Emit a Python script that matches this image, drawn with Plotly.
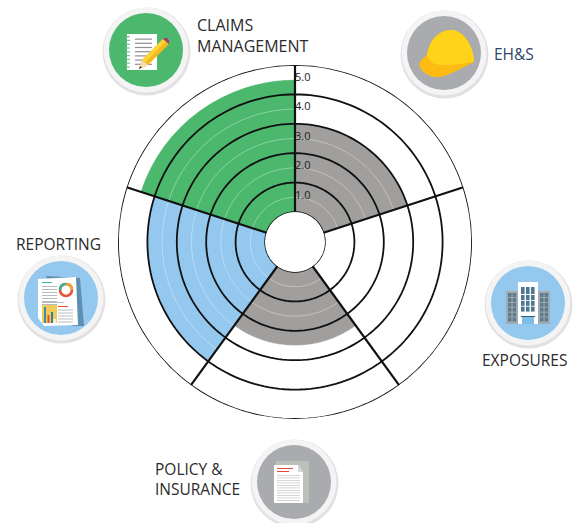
import plotly.graph_objects as go

categories = ['EH&S', 'EXPOSURES', 'POLICY & INSURANCE', 'REPORTING', 'CLAIMS MANAGEMENT']
scores = [3.0, 0.0, 2.5, 4.0, 4.5]
bar_colors = ['#A09F9E', '#A09F9E', '#A09F9E', '#94C8EE', '#4CB86E']
ring_values = [1, 2, 3, 4, 5]
half_values = [0.5, 1.5, 2.5, 3.5, 4.5]
tick_labels = ['1.0', '2.0', '3.0', '4.0', '5.0']

W, H = 580, 523
CX, CY, R = 295, 242, 177
HOLE = 30 / 177
sector = 360 / len(categories)
circle_theta = list(range(0, 361, 2))
LINE = '#111111'

fig = go.Figure()

fig.add_trace(go.Barpolar(
    r=scores,
    theta=[sector * i + sector / 2 for i in range(len(categories))],
    width=[sector] * len(categories),
    text=categories,
    marker=dict(color=bar_colors, line=dict(width=0)),
    hoverinfo='text+r',
))

# thin white half-step rings on top of the bars
for v in half_values:
    fig.add_trace(go.Scatterpolar(r=[v] * len(circle_theta), theta=circle_theta, mode='lines',
                                  line=dict(color='rgba(255,255,255,0.45)', width=0.8), hoverinfo='skip'))

# black rings
for v in ring_values:
    fig.add_trace(go.Scatterpolar(r=[v] * len(circle_theta), theta=circle_theta, mode='lines',
                                  line=dict(color=LINE, width=1.8), hoverinfo='skip'))
fig.add_trace(go.Scatterpolar(r=[0] * len(circle_theta), theta=circle_theta, mode='lines',
                              line=dict(color=LINE, width=1.4), hoverinfo='skip'))

# sector dividers
for i in range(len(categories)):
    fig.add_trace(go.Scatterpolar(r=[0, ring_values[-1]], theta=[sector * i, sector * i], mode='lines',
                                  line=dict(color=LINE, width=2.2), hoverinfo='skip'))

fig.add_trace(go.Scatterpolar(
    r=[v - 0.45 for v in ring_values],
    theta=[0] * len(ring_values),
    text=tick_labels,
    mode='text',
    textposition='middle right',
    textfont=dict(family='Open Sans', size=11, color='#222222'),
    hoverinfo='skip',
))


def px(x):
    return x / W


def py(y):
    return 1 - y / H


shapes = []


def circle(x, y, r, fill, line=None, lw=0):
    shapes.append(dict(type='circle', xref='paper', yref='paper', layer='above',
                       x0=px(x - r), x1=px(x + r), y0=py(y + r), y1=py(y - r),
                       fillcolor=fill, line=dict(color=line or fill, width=lw)))


def rect(x0, y0, x1, y1, fill):
    shapes.append(dict(type='rect', xref='paper', yref='paper', layer='above',
                       x0=px(x0), x1=px(x1), y0=py(y1), y1=py(y0),
                       fillcolor=fill, line=dict(width=0)))


def poly(points, fill):
    d = 'M ' + ' L '.join(f'{px(x):.5f},{py(y):.5f}' for x, y in points) + ' Z'
    shapes.append(dict(type='path', xref='paper', yref='paper', layer='above', path=d,
                       fillcolor=fill, line=dict(width=0)))


def curve(cmds, fill):
    # cmds: list of (letter, x1, y1, x2, y2, ...) in page pixels
    parts = []
    for c in cmds:
        nums = c[1:]
        pts = [f'{px(nums[i]):.5f},{py(nums[i + 1]):.5f}' for i in range(0, len(nums), 2)]
        parts.append(c[0] + ' ' + ' '.join(pts))
    shapes.append(dict(type='path', xref='paper', yref='paper', layer='above',
                       path=' '.join(parts) + ' Z', fillcolor=fill, line=dict(width=0)))


def badge(x, y, color):
    circle(x + 0.5, y + 1.5, 44, '#E4DFE1')
    circle(x, y, 42.5, '#F4F4F4')
    circle(x, y, 37, color)


# claims management: notepad and pencil
badge(146, 50, '#4CB86E')
rect(127, 34, 157, 70, '#FFFFFF')
for i in range(7):
    rect(135, 38.5 + i * 4.2, 152, 39.7 + i * 4.2, '#8E8E8E')
for i in range(9):
    rect(126, 36 + i * 3.8, 130, 37.2 + i * 3.8, '#7FBF95')
poly([(139, 69), (142, 60), (163, 39), (169, 44), (148, 65)], '#F7B91E')
poly([(142, 60), (163, 39), (166, 41.5), (145, 62.5)], '#FCD43A')
poly([(163, 39), (166, 37.5), (169, 40), (169, 44)], '#A53C6A')
poly([(139, 69), (142, 60), (148, 65)], '#F3DDB0')
poly([(139, 69), (140, 66), (142, 67.5)], '#333333')

# EH&S: hard hat
badge(444, 53, '#A9ABAE')
curve([('M', 419, 64), ('C', 421, 60, 424, 57, 427, 55), ('C', 430, 38, 440, 30, 452, 30),
       ('C', 464, 31, 473, 46, 474, 60), ('C', 474, 62, 473, 63, 472, 63), ('C', 462, 68, 450, 75, 440, 77),
       ('C', 432, 78, 421, 74, 419, 64)], '#FDBB14')
curve([('M', 427, 55), ('C', 430, 38, 440, 30, 452, 30), ('C', 464, 31, 473, 46, 474, 60),
       ('C', 474, 61, 473, 62, 472, 62), ('C', 463, 64, 452, 65, 445, 65), ('C', 438, 65, 430, 65, 427, 55)],
      '#FFD319')

# reporting: documents
badge(61, 298, '#94C8EE')
poly([(46, 276), (80, 278), (84, 326), (72, 326)], '#5D8FB0')
poly([(38, 279), (76, 277), (78, 325), (44, 326), (38, 318)], '#FFFFFF')
rect(42, 282, 52, 283, '#3FB58B')
for i in range(8):
    rect(42, 286 + i * 3.0, 57, 287 + i * 3.0, '#B8BCC0')
rect(42, 302, 64, 303, '#B8BCC0')
rect(42, 305, 57, 323, '#F2CB57')
rect(44, 307, 46, 323, '#3B8FA8')
rect(47.5, 315, 49.5, 323, '#E8522F')
rect(51, 312, 53, 323, '#2F7FA8')
rect(53.5, 319, 55.5, 323, '#FFFFFF')
rect(58, 306, 68, 307, '#E8522F')
for i in range(5):
    rect(58, 309.5 + i * 3.0, 73, 310.5 + i * 3.0, '#B8BCC0')
circle(66, 290, 6, 'rgba(0,0,0,0)', '#E8522F', 2.6)
shapes.append(dict(type='path', xref='paper', yref='paper', layer='above',
                   path=f'M {px(60):.5f},{py(290):.5f} Q {px(60):.5f},{py(284):.5f} {px(66):.5f},{py(284):.5f}',
                   line=dict(color='#3FB58B', width=2.6)))
shapes.append(dict(type='path', xref='paper', yref='paper', layer='above',
                   path=f'M {px(66):.5f},{py(284):.5f} Q {px(72):.5f},{py(284):.5f} {px(72):.5f},{py(290):.5f}',
                   line=dict(color='#E9A23B', width=2.6)))

# exposures: buildings
badge(528, 303, '#94C8EE')
rect(506, 291, 518, 324, '#A3AAB0')
rect(538, 291, 550, 324, '#A3AAB0')
rect(518, 282, 538, 324, '#FFFFFF')
for col in range(2):
    for row in range(6):
        rect(508 + col * 4.6, 293 + row * 4.9, 511.5 + col * 4.6, 297 + row * 4.9, '#5B7B92')
        rect(540 + col * 4.6, 293 + row * 4.9, 543.5 + col * 4.6, 297 + row * 4.9, '#5B7B92')
for col in range(3):
    for row in range(4):
        h = 7 if row == 0 else 5
        top = 287 if row == 0 else 295 + (row - 1) * 5.8
        rect(521 + col * 5, top, 524.6 + col * 5, top + h, '#4F7690')
rect(521, 316, 535, 317, '#2F5F7D')
rect(522, 317, 534, 324, '#7CBFE6')

# policy & insurance: paper
badge(294, 482, '#A9ABAE')
rect(276, 461, 309, 503, '#BBC0BB')
poly([(274, 465), (298, 465), (303, 472), (303, 503), (274, 503)], '#FFFFFF')
poly([(298, 465), (303, 472), (298, 472)], '#D5D8D5')
rect(277, 468, 293, 469, '#E8453C')
rect(277, 471, 289, 472, '#E8453C')
for i in range(11):
    rect(277, 475 + i * 2.5, 300, 475.8 + i * 2.5, '#C9CCCC')


def label(x, y, text, color='#2B2B2B', size=15.5):
    return dict(xref='paper', yref='paper', x=px(x), y=py(y), text=text, showarrow=False,
                xanchor='left', yanchor='middle', align='left', borderpad=0,
                font=dict(family='Open Sans', size=size, color=color))


annotations = [
    label(196, 35.5, 'CLAIMS<br>MANAGEMENT', size=16),
    label(493, 54, 'EH&amp;S', '#2E4466'),
    label(15, 244, 'REPORTING'),
    label(481, 360, 'EXPOSURES'),
    label(154, 478.5, 'POLICY &amp;<br>INSURANCE'),
]

fig.update_layout(
    width=W,
    height=H,
    margin=dict(l=0, r=0, t=0, b=0),
    paper_bgcolor='white',
    showlegend=False,
    shapes=shapes,
    annotations=annotations,
    polar=dict(
        domain=dict(x=[px(CX - R), px(CX + R)], y=[py(CY + R), py(CY - R)]),
        hole=HOLE,
        bgcolor='white',
        radialaxis=dict(range=[0, 5], visible=False, showgrid=False),
        angularaxis=dict(direction='clockwise', rotation=90, showgrid=False, showline=False,
                         showticklabels=False, ticks=''),
    ),
)

# the page's default body margin would push everything 8px down and right
fig.write_html("out.html", config=dict(displayModeBar=False),
               post_script="document.body.style.margin='0';")
